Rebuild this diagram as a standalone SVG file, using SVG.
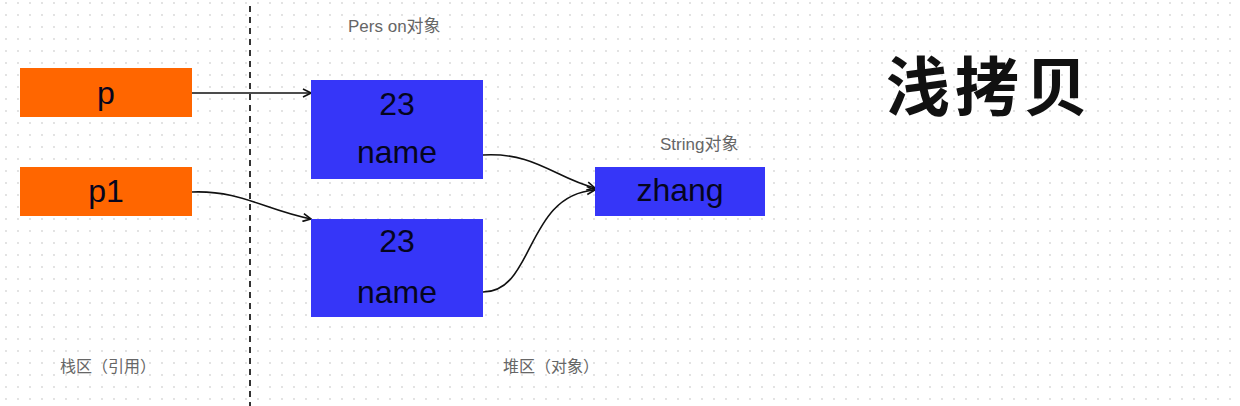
<svg xmlns="http://www.w3.org/2000/svg" width="1240" height="406" viewBox="0 0 1240 406">
<style>
.ref{fill:#FF6600;}
.obj{fill:#3636F8;}
.big{font-family:"Liberation Sans",Arial,sans-serif;font-size:32px;fill:#05051e;text-anchor:middle;}
.lbl{font-family:"Liberation Sans","Noto Sans CJK SC",sans-serif;font-size:16px;fill:#666;}
.top{font-size:17px;}
.con{fill:none;stroke:#111;stroke-width:1.6;}
</style>
<defs>
<pattern id="dots" x="0" y="9" width="12" height="12" patternUnits="userSpaceOnUse">
<circle cx="6" cy="6" r="0.9" fill="#d6d6d6"/>
</pattern>
<marker id="arr" viewBox="0 0 10 10" refX="9" refY="5" markerWidth="10" markerHeight="10" markerUnits="userSpaceOnUse" orient="auto">
<path d="M1,1 L9,5 L1,9" fill="none" stroke="#111" stroke-width="1.6"/>
</marker>
</defs>
<rect width="1240" height="406" fill="#ffffff"/>
<rect width="1240" height="406" fill="url(#dots)"/>
<line x1="250" y1="6" x2="250" y2="406" stroke="#333" stroke-width="2" stroke-dasharray="6,5"/>
<g id="connectors">
<path class="con" d="M192,93 L311,93" marker-end="url(#arr)"/>
<path class="con" d="M192,192 C240,190 265,210 311,219" marker-end="url(#arr)"/>
<path class="con" d="M483,155 C535,152 555,178 595,188" marker-end="url(#arr)"/>
<path class="con" d="M483,292 C535,292 525,195 595,190" marker-end="url(#arr)"/>
</g>
<g id="p"><rect class="ref" x="20" y="68" width="172" height="49"/><text class="big" x="106" y="104">p</text></g>
<g id="p1"><rect class="ref" x="20" y="167" width="172" height="49"/><text class="big" x="106" y="202">p1</text></g>
<g id="person1"><rect class="obj" x="311" y="80" width="172" height="99"/><text class="big" x="397" y="115">23</text><text class="big" x="397" y="163">name</text></g>
<g id="person2"><rect class="obj" x="311" y="219" width="172" height="98"/><text class="big" x="397" y="252">23</text><text class="big" x="397" y="303">name</text></g>
<g id="zhang"><rect class="obj" x="595" y="167" width="170" height="49"/><text class="big" x="680" y="201">zhang</text></g>
<text class="lbl top" x="348" y="32">Pers on对象</text>
<text class="lbl top" x="660" y="150">String对象</text>
<text class="lbl" x="60" y="372">栈区（引用）</text>
<text class="lbl" x="503" y="372">堆区（对象）</text>
<text x="886" y="110" font-family="'Noto Sans CJK SC',sans-serif" font-weight="bold" font-size="64" fill="#111" textLength="202">浅拷贝</text>
</svg>
